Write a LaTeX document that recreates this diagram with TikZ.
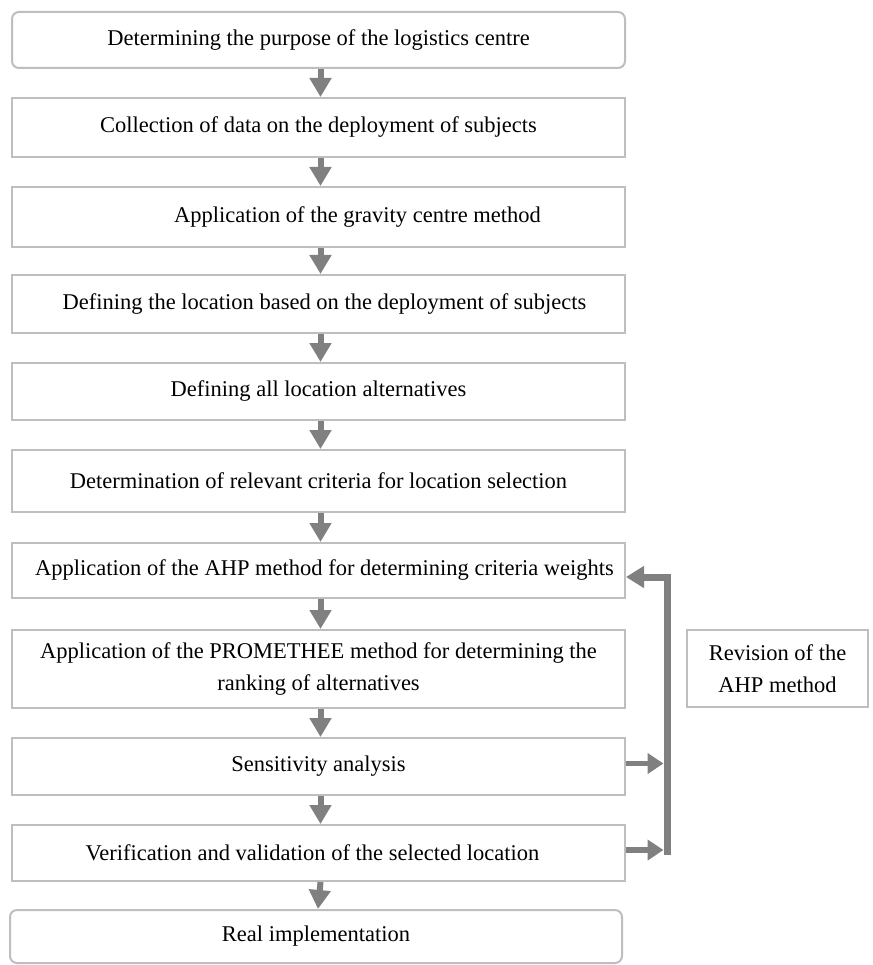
\documentclass[tikz,border=0pt]{standalone}
\usepackage{fontspec}
\setmainfont{Liberation Serif}
\usetikzlibrary{arrows.meta}

\definecolor{boxline}{RGB}{190,190,190}
\definecolor{arrowgray}{RGB}{128,128,128}

\begin{document}
\begin{tikzpicture}[x=1pt,y=1pt,
  stepbox/.style={draw=boxline, line width=2pt, fill=white, rectangle,
    minimum width=613pt, inner sep=0pt, align=center,
    font=\fontsize{22.5}{32}\selectfont, text=black},
  endbox/.style={stepbox, rounded corners=7pt},
  flow/.style={draw=arrowgray, line width=6pt,
    -{Triangle[width=21pt,length=19pt]}},
  feed/.style={draw=arrowgray, line width=5.5pt,
    -{Triangle[width=20pt,length=16pt]}}]

\useasboundingbox (0,0) rectangle (872,-965);
\fill[white] (0,0) rectangle (872,-965);

% main sequence of steps (centre x = 318.5)
\node[endbox, minimum height=56pt] (s1) at (318.5,-40)
  {Determining the purpose of the logistics centre};
\node[stepbox, minimum height=59pt] (s2) at (318.5,-127.5)
  {Collection of data on the deployment of subjects};
\node[stepbox, minimum height=60pt] (s3) at (318.5,-217)
  {\hspace*{78pt}Application of the gravity centre method};
\node[stepbox, minimum height=58pt] (s4) at (318.5,-304)
  {\hspace*{12pt}Defining the location based on the deployment of subjects};
\node[stepbox, minimum height=57pt] (s5) at (318.5,-391.5)
  {Defining all location alternatives};
\node[stepbox, minimum height=62pt] (s6) at (318.5,-481)
  {Determination of relevant criteria for location selection};
\node[stepbox, minimum height=55pt] (s7) at (318.5,-570.5)
  {\hspace*{12pt}Application of the AHP method for determining criteria weights};
\node[stepbox, minimum height=78pt] (s8) at (318.5,-669)
  {Application of the PROMETHEE method for determining the\\ ranking of alternatives};
\node[stepbox, minimum height=57pt] (s9) at (318.5,-766.5)
  {Sensitivity analysis};
\node[stepbox, minimum height=56pt] (s10) at (318.5,-853)
  {Verification and validation of the selected location\hspace*{12pt}};
\node[endbox, minimum height=53pt, minimum width=612pt] (s11) at (316,-936.5)
  {Real implementation};

% side box
\node[stepbox, minimum width=181pt, minimum height=77pt] (rev) at (777.5,-668.5)
  {Revision of the\\ AHP method};

% downward arrows between steps
\foreach \a/\b in {s1/s2,s2/s3,s3/s4,s4/s5,s5/s6,s6/s7,s7/s8,s8/s9,s9/s10,s10/s11}
  \draw[flow] ([xshift=2pt]\a.south) -- ([xshift=2pt]\b.north);

% feedback loop on the right
\coordinate (busTop) at (667,-577);
\coordinate (busBot) at (667,-855);
\draw[arrowgray, line width=7pt, line join=miter,
  -{Triangle[width=21pt,length=18pt]}]
  (busBot) -- (busTop) -- (s7.east |- busTop);
\draw[feed] ([yshift=3pt]s9.east) -- ([xshift=-3.5pt,yshift=3pt]s9.east -| busTop);
\draw[feed] ([yshift=3pt]s10.east) -- ([xshift=-3.5pt,yshift=3pt]s10.east -| busTop);

\end{tikzpicture}
\end{document}
